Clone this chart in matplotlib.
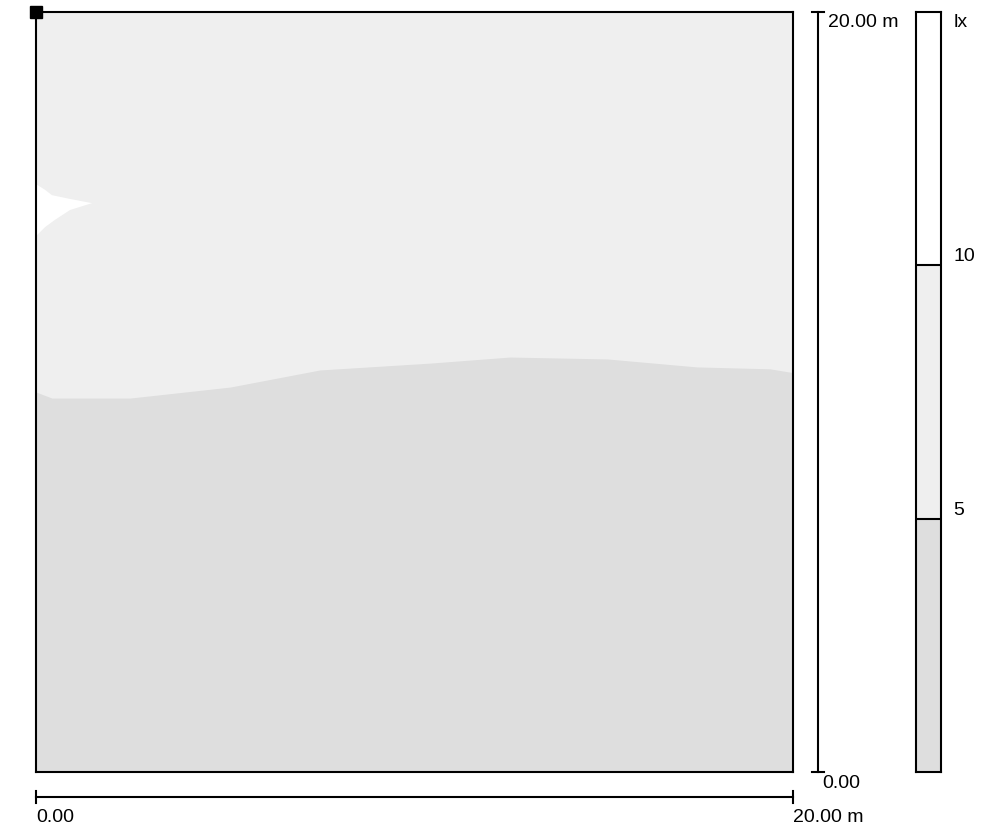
import matplotlib
matplotlib.use("Agg")
import matplotlib.pyplot as plt
import numpy as np

plt.rcParams['font.family'] = ['Liberation Sans', 'DejaVu Sans']

# Room size (m)
room_w = 20.0
room_h = 20.0

# Illuminance bands (lx) and their fill colours
levels = [0, 5, 10, 15]
band_colors = ['#dedede', '#efefef', '#ffffff']
level_labels = ['5', '10']
unit_label = 'lx'

# 5 lx isoline (x, y in m) across the room
iso5_x = [0.0, 0.42, 2.48, 5.13, 7.50, 10.41, 12.52, 15.09, 17.46, 19.39, 20.0]
iso5_y = [10.0, 9.84, 9.84, 10.13, 10.58, 10.76, 10.92, 10.87, 10.66, 10.61, 10.51]

# 10 lx island along the left wall
iso10_x = [0.0, 0.24, 0.42, 0.90, 1.48, 0.90, 0.50, 0.24, 0.0]
iso10_y = [15.47, 15.32, 15.18, 15.08, 14.97, 14.79, 14.53, 14.34, 14.10]

fig = plt.figure(figsize=(9.88, 8.30), dpi=100)
ax = fig.add_axes([36 / 988, 58 / 830, 757 / 988, 760 / 830])
ax.set_xlim(0, room_w)
ax.set_ylim(0, room_h)

# background band 5..10 lx, then the lower band below the 5 lx line
ax.fill_between([0, room_w], 0, room_h, color=band_colors[1], lw=0)
ax.fill_between(iso5_x, 0, iso5_y, color=band_colors[0], lw=0)
ax.fill(iso10_x, iso10_y, color=band_colors[2], lw=0)

for s in ax.spines.values():
    s.set_linewidth(1.5)
    s.set_color('black')
ax.set_xticks([])
ax.set_yticks([])

# marker at the origin corner
ax.plot([0], [room_h], marker='s', ms=9, color='black', clip_on=False, zorder=5)

# vertical scale bar
xb = 20.66
cap = 0.17
ax.plot([xb, xb], [0, room_h], color='black', lw=1.5, clip_on=False)
ax.plot([xb - cap, xb + cap], [room_h, room_h], color='black', lw=1.5, clip_on=False)
ax.plot([xb - cap, xb + cap], [0, 0], color='black', lw=1.5, clip_on=False)
ax.text(xb + 0.27, room_h - 0.27, '20.00 m', fontsize=14, ha='left', va='center', clip_on=False)
ax.text(xb + 0.1, -0.3, '0.00', fontsize=14, ha='left', va='center', clip_on=False)

# horizontal scale bar
yb = -0.66
capy = 0.16
ax.plot([0, room_w], [yb, yb], color='black', lw=1.5, clip_on=False)
ax.plot([0, 0], [yb - capy, yb + capy], color='black', lw=1.5, clip_on=False)
ax.plot([room_w, room_w], [yb - capy, yb + capy], color='black', lw=1.5, clip_on=False)
ax.text(0, -1.2, '0.00', fontsize=14, ha='left', va='center', clip_on=False)
ax.text(room_w, -1.2, '20.00 m', fontsize=14, ha='left', va='center', clip_on=False)

# colour legend
cax = fig.add_axes([916 / 988, 58 / 830, 25 / 988, 760 / 830])
cax.set_xlim(0, 1)
cax.set_ylim(levels[0], levels[-1])
cax.bar([0.5] * 3, np.diff(levels), bottom=levels[:-1], width=1.0,
        color=band_colors, edgecolor='none')
for lv in levels[1:-1]:
    cax.axhline(lv, color='black', lw=1.5)
for s in cax.spines.values():
    s.set_linewidth(1.5)
cax.set_xticks([])
cax.set_yticks([])
for lv, lab in zip(levels[1:-1], level_labels):
    cax.text(1.5, lv, lab, fontsize=14, ha='left', va='bottom', transform=cax.get_yaxis_transform(), clip_on=False)
cax.text(1.5, levels[-1] - 0.2, unit_label, fontsize=14, ha='left', va='center', transform=cax.get_yaxis_transform(), clip_on=False)

fig.savefig('out.png', dpi=100, facecolor='white')
